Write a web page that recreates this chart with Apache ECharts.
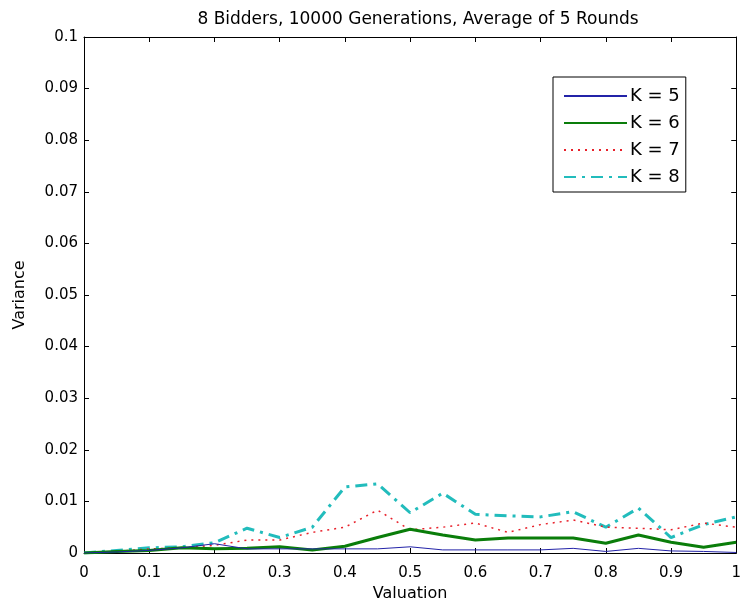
<!DOCTYPE html>
<html><head><meta charset="utf-8">
<script src="https://cdn.jsdelivr.net/npm/echarts@6/dist/echarts.min.js"></script>
<style>html,body{margin:0;padding:0;background:#fff}#c{width:744px;height:607px}#err{position:absolute;left:100px;top:60px;font:12px sans-serif;color:#c00;width:400px}</style>
</head><body><div id="c"></div><div id="err"></div>
<script>
var valuation = [0,0.05,0.1,0.15,0.2,0.25,0.3,0.35,0.4,0.45,0.5,0.55,0.6,0.65,0.7,0.75,0.8,0.85,0.9,0.95,1.0];
var k5 = [0,0.0002,0.0005,0.001,0.0018,0.0008,0.0008,0.0008,0.0008,0.0008,0.0012,0.0006,0.0006,0.0006,0.0006,0.0009,0.0003,0.0009,0.0004,0.0003,0.0001];
var k6 = [0,0.0003,0.0005,0.001,0.0008,0.0009,0.0012,0.0006,0.0013,0.003,0.0046,0.0035,0.0025,0.0029,0.0029,0.0029,0.0019,0.0035,0.0021,0.0011,0.0021];
var k7 = [0,0.0003,0.0008,0.001,0.0015,0.0025,0.0025,0.004,0.005,0.0083,0.0045,0.005,0.0058,0.004,0.0055,0.0064,0.005,0.0048,0.0045,0.0058,0.005];
var k8 = [0,0.0005,0.001,0.0012,0.002,0.0048,0.003,0.005,0.0128,0.0134,0.0078,0.0116,0.0075,0.0072,0.007,0.008,0.005,0.0087,0.003,0.0055,0.007];
var xTicks = [0,0.1,0.2,0.3,0.4,0.5,0.6,0.7,0.8,0.9,1];
var yTicks = [0,0.01,0.02,0.03,0.04,0.05,0.06,0.07,0.08,0.09,0.1];
var names = ['K = 5','K = 6','K = 7','K = 8'];
var colors = ['#2323a8','#0a7d0a','#e8202a','#22bcbc'];

try {
function pairs(ys){ return valuation.map(function(x,i){return [x, ys[i]];}); }
var font = 'DejaVu Sans, Verdana, sans-serif';
var chart = echarts.init(document.getElementById('c'), null, {renderer:'canvas'});
function mkAxis(pos, isX, withLabels){
  var a = {
    type:'value', gridIndex:0, position:pos,
    min:0, max: isX ? 1 : 0.1, interval: isX ? 0.1 : 0.01,
    axisLine:{show:true, onZero:false, lineStyle:{color:'#000', width:1}},
    axisTick:{show:true, inside:true, length:5, lineStyle:{color:'#000', width:1}},
    splitLine:{show:false},
    axisLabel:{show:withLabels, fontFamily:font, fontSize:15, color:'#000', margin: isX ? 13 : 6,
      formatter:function(v){ var r = isX ? Math.round(v*10)/10 : Math.round(v*100)/100; return String(r); }}
  };
  if (withLabels) {
    a.name = isX ? 'Valuation' : 'Variance';
    a.nameLocation = 'middle';
    a.nameGap = isX ? 33 : 56;
    a.nameTextStyle = {fontFamily:font, fontSize:16, color:'#000'};
  }
  return a;
}
chart.setOption({
  animation:false,
  title:{text:'8 Bidders, 10000 Generations, Average of 5 Rounds', left:413, top:6, textAlign:'center',
    textStyle:{fontFamily:font, fontSize:17, fontWeight:'normal', color:'#000'}},
  grid:{left:84, right:3, top:37, bottom:54, containLabel:false},
  legend:{
    show:true, orient:'vertical', left:553, top:77, data:names,
    backgroundColor:'#fff', borderColor:'#000', borderWidth:1, padding:[10,6,6,10],
    itemWidth:63, itemHeight:14, itemGap:9,
    itemStyle:{opacity:0},
    textStyle:{fontFamily:font, fontSize:18, lineHeight:18, color:'#000', padding:[0,0,0,-2]}
  },
  xAxis:[ mkAxis('bottom', true, true), mkAxis('top', true, false) ],
  yAxis:[ mkAxis('left', false, true), mkAxis('right', false, false) ],
  series:[
    {name:names[0], type:'line', xAxisIndex:0, yAxisIndex:0, data:pairs(k5), symbol:'none', lineStyle:{color:colors[0], width:1}, itemStyle:{color:colors[0]}, z:5},
    {name:names[1], type:'line', xAxisIndex:0, yAxisIndex:0, data:pairs(k6), symbol:'none', lineStyle:{color:colors[1], width:3}, itemStyle:{color:colors[1]}, z:4},
    {name:names[2], type:'line', xAxisIndex:0, yAxisIndex:0, data:pairs(k7), symbol:'none', lineStyle:{color:colors[2], width:1.5, type:[2,5]}, itemStyle:{color:colors[2]}, z:3},
    {name:names[3], type:'line', xAxisIndex:0, yAxisIndex:0, data:pairs(k8), symbol:'none', lineStyle:{color:colors[3], width:3, type:[12,6,3,6]}, itemStyle:{color:colors[3]}, z:2}
  ]
});
} catch(e) { document.getElementById('err').textContent = 'ERR: ' + e.message + ' ' + e.stack; }
window.onerror = function(m){ document.getElementById('err').textContent += ' ' + m; };
</script></body></html>
